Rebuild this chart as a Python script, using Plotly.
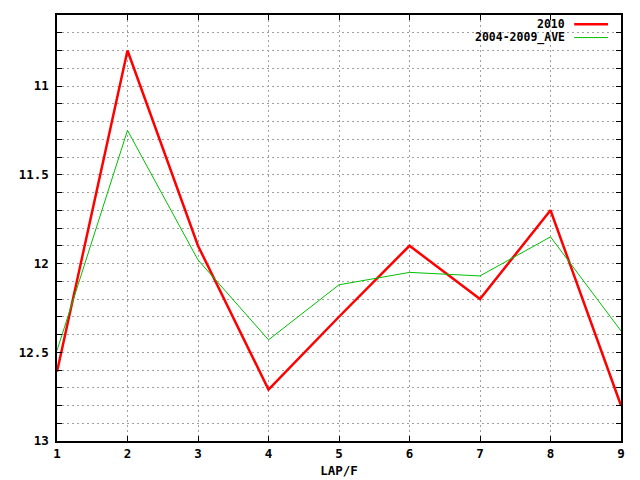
import plotly.graph_objects as go

laps = [1, 2, 3, 4, 5, 6, 7, 8, 9]
series_2010 = [12.61, 10.80, 11.90, 12.71, 12.30, 11.90, 12.20, 11.70, 12.80]
series_ave = [12.49, 11.25, 11.98, 12.43, 12.12, 12.05, 12.07, 11.85, 12.38]
names = ["2010", "2004-2009_AVE"]
colors = ["#ff0000", "#00c000"]
widths = [2.5, 1]
ytickvals = [11, 11.5, 12, 12.5, 13]

FONT = dict(family="DejaVu Sans Mono", size=12.5, color="black", weight="bold")
KEYFONT = dict(family="DejaVu Sans Mono", size=11.5, color="black", weight="bold")

fig = go.Figure()
for ys, nm, c, w in zip([series_2010, series_ave], names, colors, widths):
    fig.add_trace(go.Scatter(x=laps, y=ys, mode="lines", name=nm,
                             line=dict(color=c, width=w), showlegend=False))

# custom gnuplot-style key: text then line sample
key_y = [0.978, 0.947]
for nm, c, w, ky in zip(names, colors, widths, key_y):
    fig.add_annotation(x=0.903, y=ky, xref="paper", yref="paper", text=nm,
                       showarrow=False, xanchor="right", yanchor="middle",
                       font=KEYFONT, borderpad=0)
    fig.add_shape(type="line", xref="paper", yref="paper",
                  x0=0.917, x1=0.977, y0=ky, y1=ky,
                  line=dict(color=c, width=w))

grid = dict(showgrid=True, gridcolor="#a0a0a0", griddash="2px,3px", gridwidth=1)

fig.update_xaxes(range=[1, 9], tickmode="array", tickvals=laps,
                 ticks="inside", ticklen=5, tickcolor="black",
                 showline=True, linecolor="black", linewidth=1.5, mirror="ticks",
                 zeroline=False, tickfont=FONT, automargin=False,
                 title=dict(text="LAP/F", font=FONT, standoff=6), **grid)
fig.update_yaxes(range=[13, 10.6], tickmode="array", tickvals=ytickvals,
                 ticks="inside", ticklen=5, tickcolor="black",
                 showline=True, linecolor="black", linewidth=1.5, mirror="ticks",
                 zeroline=False, tickfont=FONT, automargin=False,
                 ticklabelstandoff=4,
                 minor=dict(dtick=0.1, tick0=10.6, ticks="inside", ticklen=5,
                            tickcolor="black", showgrid=True,
                            gridcolor="#a0a0a0", griddash="2px,3px"),
                 **grid)

# page body has an ~8px offset; margins compensate for it
fig.update_layout(width=640, height=480,
                  margin=dict(l=49, r=27, t=7, b=47, autoexpand=False),
                  paper_bgcolor="white", plot_bgcolor="white",
                  font=FONT)

fig.write_html("out.html")
